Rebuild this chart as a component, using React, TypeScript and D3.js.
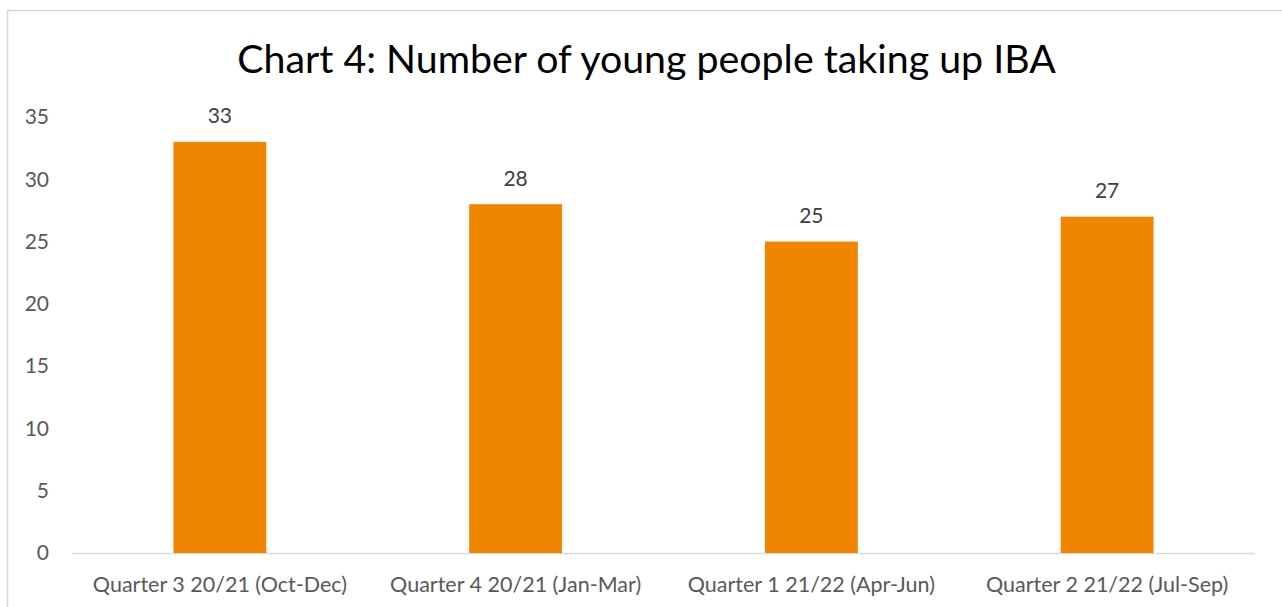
import React from "react";
import * as d3 from "d3";

const categories = [
  "Quarter 3 20/21 (Oct-Dec)",
  "Quarter 4 20/21 (Jan-Mar)",
  "Quarter 1 21/22 (Apr-Jun)",
  "Quarter 2 21/22 (Jul-Sep)",
];
const values = [33, 28, 25, 27];
const yTicks = [0, 5, 10, 15, 20, 25, 30, 35];
const title = "Chart 4: Number of young people taking up IBA";

const W = 1282;
const H = 607;
const plotLeft = 72;
const plotRight = 1255;
const plotBottom = 553;
const plotTop = 117;
const FONT = "Lato, sans-serif";

export default function App() {
  const x = d3
    .scaleBand<string>()
    .domain(categories)
    .range([plotLeft, plotRight])
    .paddingInner(0.686)
    .paddingOuter(0.343);
  const y = d3.scaleLinear().domain([0, 35]).range([plotBottom, plotTop]);

  return (
    <svg
      width={W}
      height={H}
      style={{ position: "absolute", left: 0, top: 0 }}
    >
      <rect x={0} y={0} width={W} height={H} fill="#fff" />
      <rect
        x={7.5}
        y={10.5}
        width={W + 20}
        height={H + 20}
        fill="#fff"
        stroke="#D9D9D9"
        strokeWidth={1.5}
      />
      <text
        x={(plotLeft + plotRight) / 2 - 17}
        y={73}
        textAnchor="middle"
        fontFamily={FONT}
        fontSize={39.3}
        fill="#000"
      >
        {title}
      </text>
      {yTicks.map((t) => (
        <text
          key={t}
          x={49}
          y={y(t)}
          dy="0.35em"
          textAnchor="end"
          fontFamily={FONT}
          fontSize={21}
          fill="#595959"
        >
          {t}
        </text>
      ))}
      <line
        x1={plotLeft}
        x2={plotRight}
        y1={plotBottom + 0.5}
        y2={plotBottom + 0.5}
        stroke="#D9D9D9"
        strokeWidth={1.5}
      />
      {categories.map((c, i) => (
        <g key={c}>
          <rect
            x={x(c)!}
            y={y(values[i])}
            width={x.bandwidth()}
            height={plotBottom - y(values[i])}
            fill="#F08500"
          />
          <text
            x={x(c)! + x.bandwidth() / 2}
            y={y(values[i]) - 26}
            dy="0.35em"
            textAnchor="middle"
            fontFamily={FONT}
            fontSize={21}
            fill="#404040"
          >
            {values[i]}
          </text>
          <text
            x={x(c)! + x.bandwidth() / 2}
            y={584}
            dy="0.35em"
            textAnchor="middle"
            fontFamily={FONT}
            fontSize={21.5}
            fill="#595959"
          >
            {c}
          </text>
        </g>
      ))}
    </svg>
  );
}
